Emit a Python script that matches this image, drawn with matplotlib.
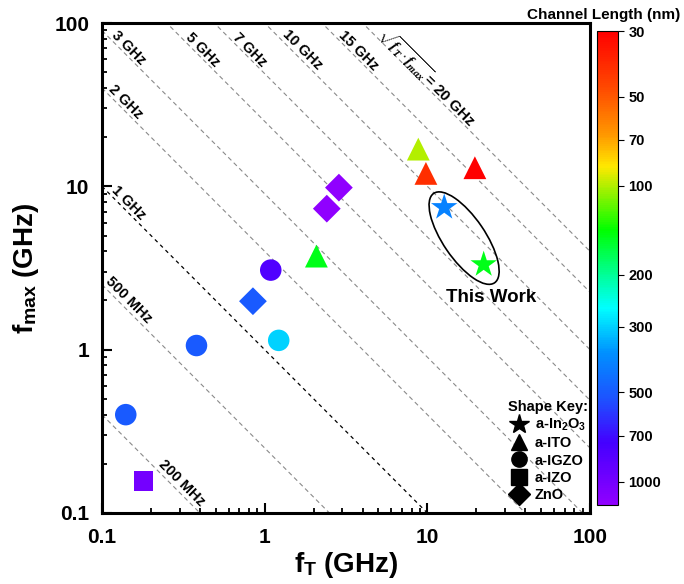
import numpy as np
import matplotlib
matplotlib.use("Agg")
import matplotlib.pyplot as plt
from matplotlib.colors import LinearSegmentedColormap, LogNorm
from matplotlib.lines import Line2D
from matplotlib.patches import Ellipse

plt.rcParams.update({
    "font.family": ["Liberation Sans", "DejaVu Sans"],
    "font.weight": "bold",
    "mathtext.fontset": "custom",
    "mathtext.rm": "Liberation Sans:bold",
    "mathtext.bf": "Liberation Sans:bold",
    "mathtext.it": "Liberation Serif:italic",
})

# --- data ---
ft = [0.14, 0.179, 0.381, 0.847, 1.09, 1.22, 2.08, 2.41, 2.86, 8.8, 9.8, 19.6, 12.7, 22.2]
fmax = [0.40, 0.157, 1.06, 1.98, 3.07, 1.14, 3.74, 7.3, 9.82, 16.9, 12.0, 13.0, 7.43, 3.32]
length_nm = [500, 1000, 500, 500, 800, 300, 150, 1200, 1200, 100, 40, 30, 400, 150]
material = ["a-IGZO", "a-IZO", "a-IGZO", "ZnO", "a-IGZO", "a-IGZO", "a-ITO", "ZnO", "ZnO",
            "a-ITO", "a-ITO", "a-ITO", "a-In2O3", "a-In2O3"]

gm_levels = [0.2, 0.5, 1, 2, 3, 5, 7, 10, 15, 20]   # sqrt(fT*fmax), GHz
gm_labels = ["200 MHz", "500 MHz", "1 GHz", "2 GHz", "3 GHz", "5 GHz", "7 GHz",
             "10 GHz", "15 GHz", r"$\sqrt{f_T\cdot f_{max}}$= 20 GHz"]
label_pos = [(0.31, 0.153), (0.146, 2.0), (0.146, 7.87), (0.140, 32.7), (0.146, 70.3),
             (0.417, 68.3), (0.81, 68.3), (1.71, 68.3), (3.77, 67.3), (10.0, 46.6)]

cbar_ticks = [30, 50, 70, 100, 200, 300, 500, 700, 1000]

shape_keys = ["a-In2O3", "a-ITO", "a-IGZO", "a-IZO", "ZnO"]
shape_labels = [r"a-In$_\mathrm{2}$O$_\mathrm{3}$", "a-ITO", "a-IGZO", "a-IZO", "ZnO"]
markers = {"a-In2O3": "*", "a-ITO": "^", "a-IGZO": "o", "a-IZO": "s", "ZnO": "D"}
msizes = {"a-In2O3": 400, "a-ITO": 270, "a-IGZO": 240, "a-IZO": 190, "ZnO": 200}

cmap = LinearSegmentedColormap.from_list("chan", [
    (0.0, "#FF0000"), (0.12, "#FF4A00"), (0.22, "#FF9A00"), (0.285, "#FFE800"),
    (0.42, "#00FF00"), (0.52, "#00FFA0"), (0.585, "#00FFFF"), (0.68, "#0090FF"),
    (0.78, "#1E50FF"), (0.87, "#4400FF"), (1.0, "#9000FF")])
norm = LogNorm(vmin=30, vmax=1200)

fig = plt.figure(figsize=(6.84, 5.84), dpi=100)
ax = fig.add_axes([0.1491, 0.1216, 0.7135, 0.8390])
cax = fig.add_axes([0.8728, 0.1353, 0.0307, 0.8116])

# constant sqrt(fT*fmax) lines
xs = np.logspace(-1, 2, 200)
for g, lab, (lx, ly) in zip(gm_levels, gm_labels, label_pos):
    if g == 1:
        ax.plot(xs, g**2 / xs, color="black", lw=0.9, ls=(0, (3, 3)), zorder=1)
    else:
        ax.plot(xs, g**2 / xs, color="#8a8a8a", lw=0.8, ls=(0, (4, 3)), zorder=1)
    ax.text(lx, ly, lab, rotation=-45, rotation_mode="anchor", ha="center", va="center",
            fontsize=11 if g == 20 else 10.5, fontweight="bold", zorder=2)

ft = np.array(ft); fmax = np.array(fmax); length_nm = np.array(length_nm)
for key in shape_keys:
    m = np.array([mm == key for mm in material])
    ax.scatter(ft[m], fmax[m], c=length_nm[m], cmap=cmap, norm=norm, marker=markers[key],
               s=msizes[key], edgecolors="none", zorder=3)

ax.add_patch(Ellipse((0.742, 0.561), 0.221, 0.086, angle=-55.6, transform=ax.transAxes,
                     fill=False, ec="black", lw=1.2, zorder=4))
ax.text(13.0, 2.08, "This Work", ha="left", va="center", fontsize=13.5, fontweight="bold")

ax.set_xscale("log"); ax.set_yscale("log")
ax.set_xlim(0.1, 100); ax.set_ylim(0.1, 100)
ax.set_xticks([0.1, 1, 10, 100], ["0.1", "1", "10", "100"])
ax.set_yticks([0.1, 1, 10, 100], ["0.1", "1", "10", "100"])
ax.tick_params(which="both", direction="in", top=False, right=False, labelsize=15)
ax.tick_params(axis="x", pad=11)
ax.tick_params(axis="y", pad=9)
ax.tick_params(which="major", length=7, width=1.5)
ax.tick_params(which="minor", length=3.6, width=1.3)
for sp in ax.spines.values():
    sp.set_linewidth(2.2)
ax.set_xlabel(r"f$_\mathrm{T}$ (GHz)", fontsize=20, fontweight="bold", labelpad=2)
ax.set_ylabel(r"f$_\mathrm{max}$ (GHz)", fontsize=20, fontweight="bold", labelpad=10)

handles = [Line2D([], [], ls="none", marker=markers[k], color="black",
                  markersize=15 if k == "a-In2O3" else 11) for k in shape_keys]
leg = ax.legend(handles, shape_labels, title="Shape Key:", loc="lower right",
                bbox_to_anchor=(1.0, 0.018), frameon=False, fontsize=10.5,
                title_fontsize=10.5, labelspacing=0.22, handlelength=1.3,
                handletextpad=0.4, borderaxespad=0.05, borderpad=0.1)
leg.get_title().set_fontweight("bold")
for t in leg.get_texts():
    t.set_fontweight("bold")

sm = plt.cm.ScalarMappable(norm=norm, cmap=cmap)
cb = fig.colorbar(sm, cax=cax)
cax.invert_yaxis()
cb.set_ticks(cbar_ticks)
cb.set_ticklabels([str(v) for v in cbar_ticks])
cax.minorticks_off()
cax.tick_params(labelsize=10.5, length=4, width=0.8)
for t in cax.get_yticklabels():
    t.set_fontweight("bold")
cb.outline.set_linewidth(0.8)
fig.text(0.883, 0.975, "Channel Length (nm)", ha="center", va="center",
         fontsize=11, fontweight="bold")

fig.savefig("out.png", dpi=100)
